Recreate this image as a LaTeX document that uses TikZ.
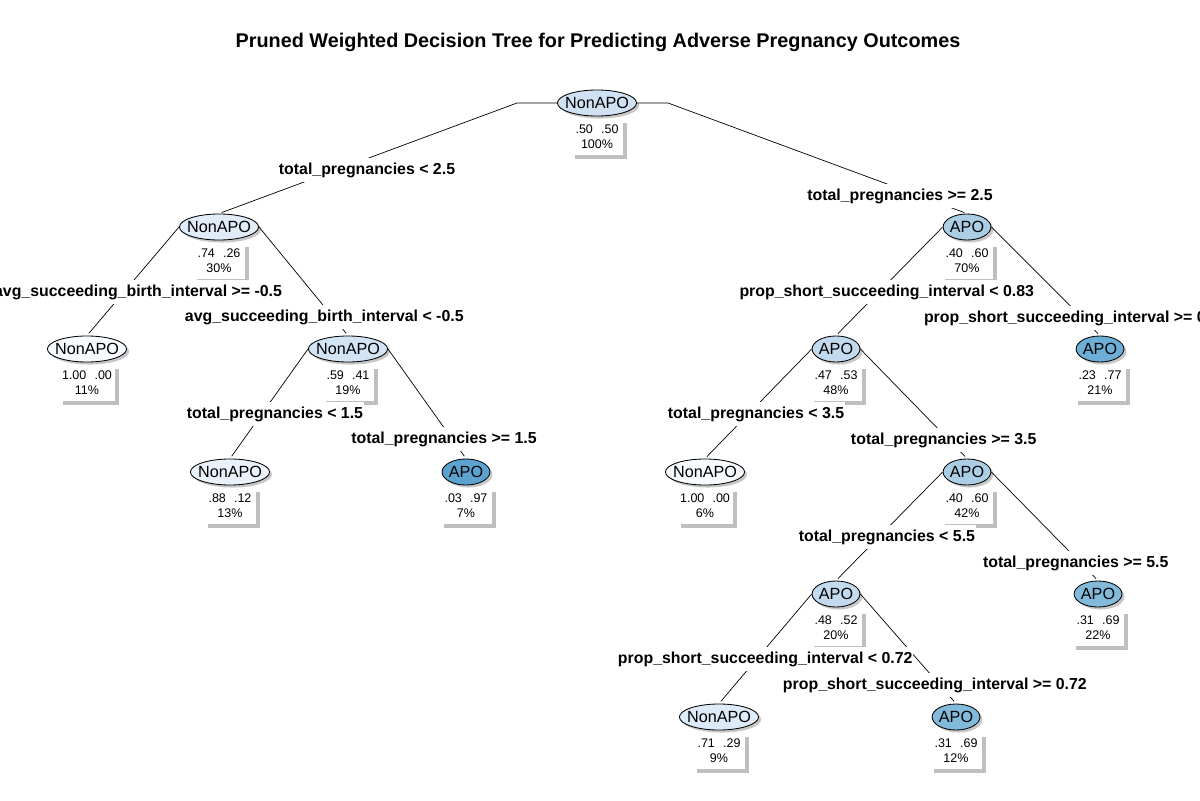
\documentclass[tikz,border=0pt]{standalone}
\usepackage{fontspec}
\setmainfont{Liberation Sans}
\usepackage{tikz}
\usetikzlibrary{positioning,shapes.geometric,shadows}

\definecolor{p100}{HTML}{F7FBFF}
\definecolor{p88}{HTML}{E9F2FB}
\definecolor{p74}{HTML}{E0ECF8}
\definecolor{p71}{HTML}{DDEAF7}
\definecolor{p59}{HTML}{D3E4F4}
\definecolor{p50}{HTML}{CFE1F2}
\definecolor{q52}{HTML}{C3DAEE}
\definecolor{q60}{HTML}{ABCEE5}
\definecolor{q69}{HTML}{82BADB}
\definecolor{q77}{HTML}{6CAED6}
\definecolor{q97}{HTML}{5CA3D1}

\tikzset{
  oval/.style={ellipse, draw=black, line width=.6pt, fill=#1, inner xsep=-2.8pt, inner ysep=0pt,
    minimum width=34pt, minimum height=18.5pt, font=\fontsize{11.5}{13}\selectfont,
    drop shadow={shadow xshift=1.8pt, shadow yshift=-1.8pt, fill=black!22, opacity=1}},
  stats/.style={fill=white, align=center, anchor=north, yshift=-1.5pt, minimum width=37pt,
    minimum height=25.5pt, inner xsep=2pt, inner ysep=1pt, font=\fontsize{8.9}{10.6}\selectfont,
    drop shadow={shadow xshift=2.8pt, shadow yshift=-2.8pt, fill=black!25, opacity=1}},
  split/.style={fill=white, inner xsep=.5pt, inner ysep=3.5pt, font=\bfseries\fontsize{11.3}{13}\selectfont},
  branch/.style={line width=.5pt, shorten >=2pt}
}
\newcommand{\probs}[3]{#1\hspace{.65em}#2\\#3}

\begin{document}
\begin{tikzpicture}[x=0.025cm,y=-0.025cm]
        \useasboundingbox (0,0) rectangle (1200,800);
        \fill[white] (0,0) rectangle (1200,800);
        \clip (0,0) rectangle (1200,800);

        \node[font=\bfseries\fontsize{14.1}{16}\selectfont] (title) at (598,42) {Pruned Weighted Decision Tree for Predicting Adverse Pregnancy Outcomes};

        % tree nodes
        \node[oval=p50]  (root)   at (597,103) {NonAPO};  \node[stats] (root-s)   at (root.south)   {\probs{.50}{.50}{100\%}};
        \node[oval=p74]  (n2)     at (219,227) {NonAPO};  \node[stats] (n2-s)     at (n2.south)     {\probs{.74}{.26}{30\%}};
        \node[oval=q60]  (n3)     at (967,227) {APO};     \node[stats] (n3-s)     at (n3.south)     {\probs{.40}{.60}{70\%}};
        \node[oval=p100] (leaf4)  at (87,349)  {NonAPO};  \node[stats] (leaf4-s)  at (leaf4.south)  {\probs{1.00}{.00}{11\%}};
        \node[oval=p59]  (n5)     at (348,349) {NonAPO};  \node[stats] (n5-s)     at (n5.south)     {\probs{.59}{.41}{19\%}};
        \node[oval=q52]  (n6)     at (836,349) {APO};     \node[stats] (n6-s)     at (n6.south)     {\probs{.47}{.53}{48\%}};
        \node[oval=q77]  (leaf7)  at (1100,349) {APO};    \node[stats] (leaf7-s)  at (leaf7.south)  {\probs{.23}{.77}{21\%}};
        \node[oval=p88]  (leaf8)  at (230,472) {NonAPO};  \node[stats] (leaf8-s)  at (leaf8.south)  {\probs{.88}{.12}{13\%}};
        \node[oval=q97]  (leaf9)  at (466,472) {APO};     \node[stats] (leaf9-s)  at (leaf9.south)  {\probs{.03}{.97}{7\%}};
        \node[oval=p100] (leaf10) at (705,472) {NonAPO};  \node[stats] (leaf10-s) at (leaf10.south) {\probs{1.00}{.00}{6\%}};
        \node[oval=q60]  (n11)    at (967,472) {APO};     \node[stats] (n11-s)    at (n11.south)    {\probs{.40}{.60}{42\%}};
        \node[oval=q52]  (n12)    at (836,594) {APO};     \node[stats] (n12-s)    at (n12.south)    {\probs{.48}{.52}{20\%}};
        \node[oval=q69]  (leaf13) at (1098,594) {APO};    \node[stats] (leaf13-s) at (leaf13.south) {\probs{.31}{.69}{22\%}};
        \node[oval=p71]  (leaf14) at (719,717) {NonAPO};  \node[stats] (leaf14-s) at (leaf14.south) {\probs{.71}{.29}{9\%}};
        \node[oval=q69]  (leaf15) at (956,717) {APO};     \node[stats] (leaf15-s) at (leaf15.south) {\probs{.31}{.69}{12\%}};

        % branches
        \coordinate (rootL) at (517,103);
        \coordinate (rootR) at (668,103);
        \draw[branch] (root.west) -- (rootL) -- (n2.north);
        \draw[branch] (root.east) -- (rootR) -- (n3.north);
        \draw[branch] (n2.west) -- (leaf4.north);
        \draw[branch] (n2.east) -- (n5.north);
        \draw[branch] (n3.west) -- (n6.north);
        \draw[branch] (n3.east) -- (leaf7.north);
        \draw[branch] (n5.west) -- (leaf8.north);
        \draw[branch] (n5.east) -- (leaf9.north);
        \draw[branch] (n6.west) -- (leaf10.north);
        \draw[branch] (n6.east) -- (n11.north);
        \draw[branch] (n11.west) -- (n12.north);
        \draw[branch] (n11.east) -- (leaf13.north);
        \draw[branch] (n12.west) -- (leaf14.north);
        \draw[branch] (n12.east) -- (leaf15.north);

        % split labels
        \node[split] (s1l) at (367,170) {total\_pregnancies < 2.5};
        \node[split] (s1r) at (900,196) {total\_pregnancies >= 2.5};
        \node[split, anchor=east] (s2l) at (283,292) {avg\_succeeding\_birth\_interval >= -0.5};
        \node[split, anchor=west] (s2r) at (184,317) {avg\_succeeding\_birth\_interval < -0.5};
        \node[split, anchor=east] (s3l) at (1035,292) {prop\_short\_succeeding\_interval < 0.83};
        \node[split, anchor=west] (s3r) at (923,318) {prop\_short\_succeeding\_interval >= 0.83};
        \node[split] (s5l) at (275,414) {total\_pregnancies < 1.5};
        \node[split] (s5r) at (444,439) {total\_pregnancies >= 1.5};
        \node[split] (s6l) at (756,414) {total\_pregnancies < 3.5};
        \node[split, anchor=west] (s6r) at (850,440) {total\_pregnancies >= 3.5};
        \node[split, anchor=east] (s11l) at (976,537) {total\_pregnancies < 5.5};
        \node[split, anchor=west] (s11r) at (982,563) {total\_pregnancies >= 5.5};
        \node[split, anchor=west] (s12l) at (617,659) {prop\_short\_succeeding\_interval < 0.72};
        \node[split, anchor=west] (s12r) at (782,685) {prop\_short\_succeeding\_interval >= 0.72};
\end{tikzpicture}
\end{document}
